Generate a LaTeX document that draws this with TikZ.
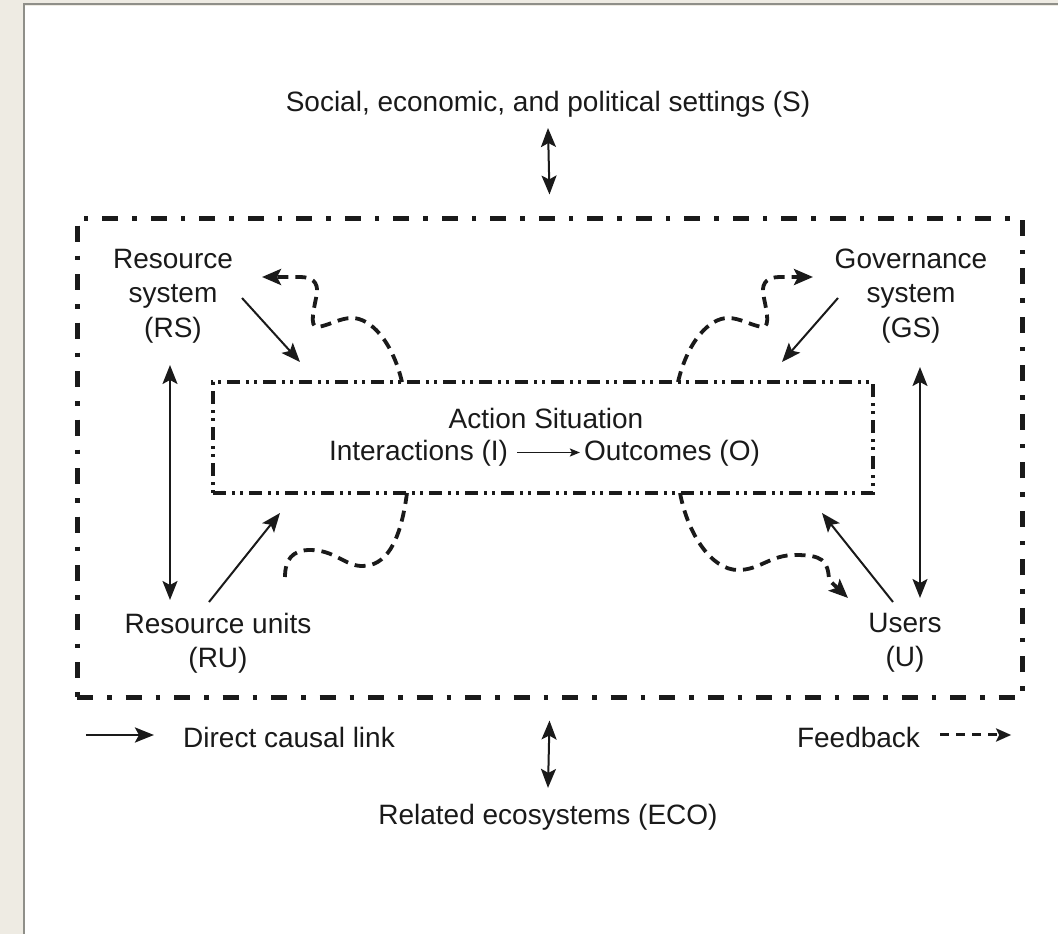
\documentclass[tikz,border=0pt]{standalone}
\usepackage{fontspec}
\setmainfont{Liberation Sans}
\usetikzlibrary{arrows.meta}
\definecolor{beige}{HTML}{EEEBE3}
\definecolor{framegray}{HTML}{8F8F89}
\definecolor{ink}{HTML}{1A1A1A}
\begin{document}
\begin{tikzpicture}[x=1pt,y=-1pt,
  lbl/.style={font=\fontsize{28}{34.5}\selectfont, text=ink, inner sep=0pt, align=center},
  causal/.style={draw=ink, line width=2pt, -{Stealth[length=19pt,width=15pt,inset=4pt]}},
  both/.style={draw=ink, line width=2pt, {Stealth[length=19pt,width=15pt,inset=4pt]}-{Stealth[length=19pt,width=15pt,inset=4pt]}},
  feedback/.style={draw=ink, line width=3.8pt, dash pattern=on 11pt off 7pt, -{Stealth[length=19pt,width=16pt,inset=4pt]}},
  feedbacknotip/.style={draw=ink, line width=3.8pt, dash pattern=on 11pt off 7pt},
  small/.style={draw=ink, line width=1.6pt, -{Stealth[length=10pt,width=8pt,inset=2pt]}},
  outerbox/.style={draw=ink, line width=5pt, dash pattern=on 16pt off 14pt on 4.5pt off 14pt, minimum width=945pt, minimum height=479pt, inner sep=0pt},
  innerbox/.style={draw=ink, line width=3.8pt, dash pattern=on 13pt off 6pt on 3pt off 5pt on 3pt off 6pt, minimum width=660pt, minimum height=111pt, inner sep=0pt}
]
\useasboundingbox (0,0) rectangle (1058,934);
\fill[beige] (0,0) rectangle (1058,934);
\fill[white] (25,6) rectangle (1058,934);
\draw[framegray, line width=2pt] (24,934) -- (24,4.5) -- (1058,4.5);

% boxes
\node[outerbox] (outer) at (549.5,457.5) {};
\node[innerbox] (box) at (543,437.5) {};

% texts
\node[lbl, anchor=base] (S) at (548,111) {Social, economic, and political settings (S)};
\node[lbl, anchor=base] (eco) at (548,824) {Related ecosystems (ECO)};
\node[lbl, anchor=base] (dcl) at (289,747) {Direct causal link};
\node[lbl, anchor=base] (fbk) at (858.5,747) {Feedback};
\node[lbl, anchor=base] (as) at (546,428) {Action Situation};
\node[lbl, anchor=base] (inter) at (418.5,460) {Interactions (I)};
\node[lbl, anchor=base] (outc) at (672,460) {Outcomes (O)};
\node[lbl] (rs) at (173,296) {Resource\\system\\(RS)};
\node[lbl] (gs) at (911,296) {Governance\\system\\(GS)};
\node[lbl] (ru) at (218,643) {Resource units\\(RU)};
\node[lbl] (us) at (905,643) {Users\\(U)};

% connector end points
\coordinate (rsA) at (242,298);
\coordinate (rsB) at (300,362);
\coordinate (ruA) at (209,602);
\coordinate (ruB) at (280,513);
\coordinate (gsA) at (838,298);
\coordinate (gsB) at (782,362);
\coordinate (usA) at (893,602);
\coordinate (usB) at (822,513);
\coordinate (lv1) at (170,365);
\coordinate (lv2) at (170,600);
\coordinate (rv1) at (920,367);
\coordinate (rv2) at (920,598);

% direct causal links
\draw[causal] (rsA) -- (rsB);
\draw[causal] (ruA) -- (ruB);
\draw[causal] (gsA) -- (gsB);
\draw[causal] (usA) -- (usB);
\draw[both] (lv1) -- (lv2);
\draw[both] (rv1) -- (rv2);
\draw[both] ([yshift=-11pt]S.south) -- ([yshift=21pt]outer.north);
\draw[both] ([yshift=-21pt]outer.south) -- ([yshift=15.6pt]eco.north);
\draw[small] ([shift={(9pt,7.5pt)}]inter.base east) -- ([shift={(-4pt,7.5pt)}]outc.base west);

% feedback curves
\draw[feedback] (402,382) .. controls (392,340) and (370,318) .. (352,318)
   .. controls (340,318) and (330,325) .. (318,327)
   .. controls (308,328) and (315,305) .. (317,293)
   .. controls (318,282) and (312,277) .. (300,277) -- (262,277);
\draw[feedback] (678,382) .. controls (688,340) and (710,318) .. (728,318)
   .. controls (740,318) and (750,325) .. (762,327)
   .. controls (772,328) and (765,305) .. (763,293)
   .. controls (762,282) and (768,277) .. (780,277) -- (813,277);
\draw[feedbacknotip] (407,493) .. controls (400,545) and (385,566) .. (362,566)
   .. controls (345,566) and (335,550) .. (310,550)
   .. controls (292,550) and (285,560) .. (285,577);
\draw[feedback] (680,493) .. controls (688,535) and (712,570) .. (738,570)
   .. controls (760,570) and (770,555) .. (795,555)
   .. controls (822,555) and (828,560) .. (829,580) -- (848,598);

% legend
\draw[causal, line width=2.8pt] ([xshift=-97pt,yshift=2pt]dcl.west) -- ([xshift=-29pt,yshift=2pt]dcl.west);
\draw[draw=ink, line width=3pt, dash pattern=on 9pt off 7pt, -{Stealth[length=15pt,width=13pt,inset=3pt]}] ([xshift=20pt,yshift=2pt]fbk.east) -- ([xshift=91pt,yshift=2pt]fbk.east);
\end{tikzpicture}
\end{document}
